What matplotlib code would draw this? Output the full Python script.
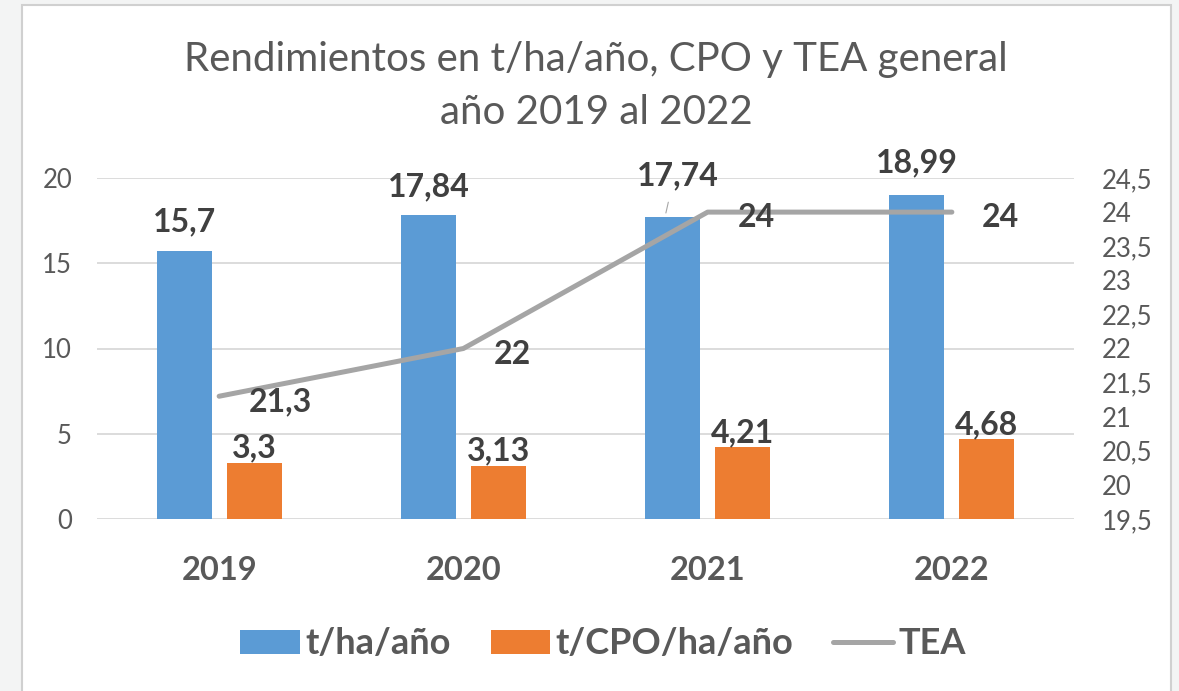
import matplotlib
matplotlib.use("Agg")
import matplotlib.pyplot as plt
import numpy as np
from matplotlib.patches import Rectangle, Patch
from matplotlib.lines import Line2D

# Данные
years = ["2019", "2020", "2021", "2022"]
t_ha = [15.7, 17.84, 17.74, 18.99]
t_cpo = [3.3, 3.13, 4.21, 4.68]
tea = [21.3, 22, 24, 24]

left_ticks = [0, 5, 10, 15, 20]
right_ticks = [19.5, 20, 20.5, 21, 21.5, 22, 22.5, 23, 23.5, 24, 24.5]

BLUE = "#5B9BD5"
ORANGE = "#ED7D31"
GRAY = "#A5A5A5"
TEXT = "#595959"
LABEL = "#404040"
GRID = "#D9D9D9"

plt.rcParams["font.family"] = ["Lato", "DejaVu Sans"]


def fmt(v):
    s = f"{v:g}"
    return s.replace(".", ",")


fig = plt.figure(figsize=(11.79, 6.91), dpi=100)
fig.patch.set_facecolor("#F3F4F4")

# Белая область диаграммы с рамкой
fig.patches.append(Rectangle((22 / 1179, -0.02), (1171 - 22) / 1179, 1.0 - 5 / 691 + 0.02,
                             transform=fig.transFigure, facecolor="white",
                             edgecolor="#D0D0D0", linewidth=1.5, zorder=-5))

ax = fig.add_axes([97 / 1179, 172 / 691, 977 / 1179, 341 / 691])
ax.set_facecolor("none")
ax2 = ax.twinx()
ax2.set_facecolor("none")

x = np.arange(len(years))
w = 0.225
off = 0.1434

ax.bar(x - off, t_ha, w, color=BLUE, zorder=2)
ax.bar(x + off, t_cpo, w, color=ORANGE, zorder=2)

ax.set_xlim(-0.5, len(years) - 0.5)
ax.set_ylim(0, 20)
ax.set_yticks(left_ticks)
ax.set_yticklabels([fmt(v) for v in left_ticks])
ax.grid(axis="y", color=GRID, linewidth=1.3, zorder=0)
ax.set_axisbelow(True)
ax.set_xticks(x)
ax.set_xticklabels(years, fontsize=23.5, fontweight="bold", color=TEXT)
ax.tick_params(axis="x", length=0, pad=27)
ax.tick_params(axis="y", length=0, pad=18, labelsize=18.5, labelcolor=TEXT)
for s in ax.spines.values():
    s.set_visible(False)

ax2.plot(x, tea, color=GRAY, linewidth=3.6, solid_capstyle="round", zorder=3)
ax2.set_ylim(19.5, 24.5)
ax2.set_yticks(right_ticks)
ax2.set_yticklabels([fmt(v) for v in right_ticks])
ax2.tick_params(axis="y", length=0, pad=20, labelsize=18.5, labelcolor=TEXT)
for s in ax2.spines.values():
    s.set_visible(False)

# Подписи столбцов
blue_gap = [20, 19, 31, 23]
for i, (xi, v) in enumerate(zip(x, t_ha)):
    if i == 2:
        ax.annotate(fmt(v), xy=(xi - off + 0.02, v), xytext=(0, blue_gap[i]),
                    textcoords="offset pixels", ha="center", va="baseline",
                    fontsize=23, fontweight="bold", color=LABEL, zorder=5)
        ax.annotate("", xy=(xi - off - 0.03, v + 0.05), xytext=(xi - off - 0.015, v + 1.0),
                    arrowprops=dict(arrowstyle="-", color="#A6A6A6", lw=0.8), zorder=5)
    else:
        ax.annotate(fmt(v), xy=(xi - off, v), xytext=(0, blue_gap[i]),
                    textcoords="offset pixels", ha="center", va="baseline",
                    fontsize=23, fontweight="bold", color=LABEL, zorder=5)
for xi, v in zip(x, t_cpo):
    ax.annotate(fmt(v), xy=(xi + off, v), xytext=(0, 5),
                textcoords="offset pixels", ha="center", va="baseline",
                fontsize=23, fontweight="bold", color=LABEL, zorder=5)

# Подписи линии
for xi, v in zip(x, tea):
    ax2.annotate(fmt(v), xy=(xi, v), xytext=(30, -15),
                 textcoords="offset pixels", ha="left", va="baseline",
                 fontsize=23, fontweight="bold", color=LABEL, zorder=5)

# Заголовок
fig.text(596 / 1179, 1 - 60 / 691, "Rendimientos en t/ha/año, CPO y TEA general",
         ha="center", va="center", fontsize=29, color=TEXT)
fig.text(596 / 1179, 1 - 112 / 691, "año 2019 al 2022",
         ha="center", va="center", fontsize=29, color=TEXT)

# Легенда
handles = [
    Patch(facecolor=BLUE, edgecolor="none", label="t/ha/año"),
    Patch(facecolor=ORANGE, edgecolor="none", label="t/CPO/ha/año"),
    Line2D([0], [0], color=GRAY, linewidth=3.6, solid_capstyle="round", label="TEA"),
]
leg = fig.legend(handles=handles, loc="center", bbox_to_anchor=(603 / 1179, 1 - 644 / 691),
                 ncol=3, frameon=False, handlelength=1.65, handleheight=0.65,
                 handletextpad=0.15, columnspacing=1.1,
                 prop={"size": 26, "weight": "bold"})
for t in leg.get_texts():
    t.set_color(TEXT)

fig.savefig("out.png", dpi=100, facecolor=fig.get_facecolor())
